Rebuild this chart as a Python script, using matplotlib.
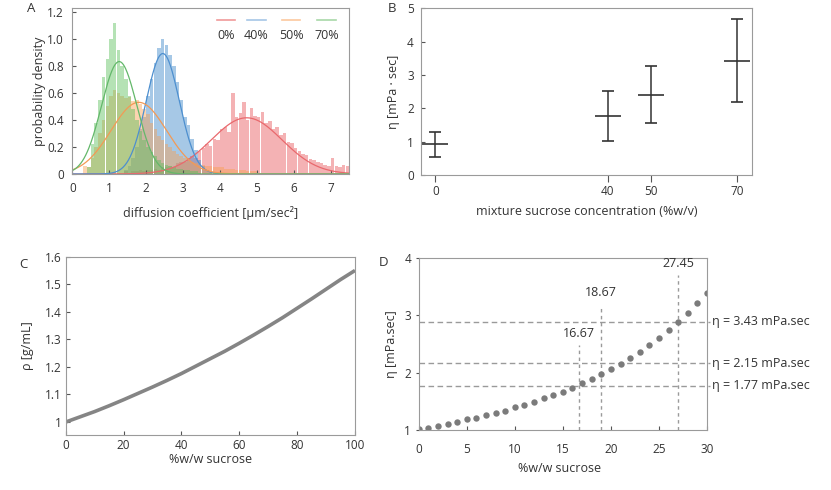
import numpy as np
import matplotlib
matplotlib.use("Agg")
import matplotlib.pyplot as plt

plt.rcParams['font.family'] = ['Open Sans', 'DejaVu Sans']
plt.rcParams['text.color'] = '#333333'
plt.rcParams['axes.labelcolor'] = '#333333'
plt.rcParams['xtick.color'] = '#555555'
plt.rcParams['ytick.color'] = '#555555'
plt.rcParams['xtick.labelcolor'] = '#333333'
plt.rcParams['ytick.labelcolor'] = '#333333'

# ---------------- Panel A data: histograms (bin width 0.1) ----------------
bin_width = 0.1
labels_A = ['0%', '40%', '50%', '70%']
hist_start = [1.0, 1.4, 0.3, 0.4]
h_0 = [0.01, 0.00, 0.01, 0.01, 0.02, 0.01, 0.02, 0.02, 0.03, 0.02,
       0.03, 0.03, 0.04, 0.03, 0.05, 0.05, 0.06, 0.05, 0.08, 0.09,
       0.09, 0.12, 0.13, 0.12, 0.17, 0.19, 0.22, 0.21, 0.26, 0.25,
       0.33, 0.35, 0.31, 0.60, 0.42, 0.45, 0.53, 0.40, 0.49, 0.43,
       0.42, 0.46, 0.38, 0.39, 0.33, 0.35, 0.29, 0.30, 0.24, 0.23,
       0.19, 0.17, 0.15, 0.14, 0.11, 0.10, 0.09, 0.08, 0.07, 0.06,
       0.12, 0.06, 0.05, 0.07, 0.06]
h_40 = [0.03, 0.06, 0.12, 0.20, 0.33, 0.42, 0.58, 0.70, 0.82, 0.93,
        1.00, 0.95, 0.88, 0.80, 0.68, 0.55, 0.42, 0.36, 0.26, 0.18,
        0.10, 0.06, 0.03, 0.02]
h_50 = [0.06, 0.05, 0.12, 0.20, 0.30, 0.40, 0.50, 0.58, 0.62, 0.60,
        0.58, 0.56, 0.57, 0.54, 0.55, 0.52, 0.48, 0.44, 0.38, 0.33,
        0.28, 0.25, 0.22, 0.20, 0.17, 0.15, 0.13, 0.12, 0.10, 0.09,
        0.08, 0.07, 0.07, 0.06, 0.06, 0.05, 0.05, 0.05, 0.04, 0.04,
        0.04, 0.03, 0.03, 0.03, 0.02, 0.02, 0.02]
h_70 = [0.05, 0.22, 0.38, 0.55, 0.72, 0.85, 1.00, 1.12, 0.92, 0.80,
        0.70, 0.58, 0.48, 0.40, 0.32, 0.25, 0.20, 0.16, 0.13, 0.10,
        0.08, 0.07, 0.06, 0.05, 0.04, 0.04, 0.03, 0.03, 0.02, 0.02, 0.01]
hist_heights = [h_0, h_40, h_50, h_70]
fit_mean = [4.72, 2.45, 1.80, 1.27]
fit_sd = [0.96, 0.448, 0.753, 0.48]
hist_colors = ['#e8555a', '#3a87c8', '#f9a050', '#5cbf5c']
curve_colors = ['#e9696d', '#4d8fcf', '#f39a55', '#63b86a']
legend_colors = ['#f09a9a', '#a6c6e6', '#fcc89e', '#a8d8a8']

# ---------------- Panel B data ----------------
conc_B = [0, 40, 50, 70]
visc_B = [0.92, 1.77, 2.41, 3.43]
visc_err_B = [0.38, 0.755, 0.855, 1.245]

# ---------------- Panel C data ----------------
sucrose_C = [0, 5, 10, 15, 20, 25, 30, 35, 40, 45, 50, 55, 60, 65, 70, 75, 80, 85, 90, 95, 100]
density_C = [1.000, 1.019, 1.038, 1.059, 1.081, 1.104, 1.127, 1.151, 1.176, 1.203,
             1.230, 1.257, 1.286, 1.316, 1.347, 1.379, 1.413, 1.447, 1.482, 1.517, 1.550]

# ---------------- Panel D data ----------------
sucrose_D = list(range(0, 31))
visc_D = [1.02, 1.04, 1.075, 1.105, 1.14, 1.19, 1.215, 1.255, 1.30, 1.34,
          1.40, 1.44, 1.49, 1.55, 1.61, 1.67, 1.74, 1.815, 1.89, 1.97,
          2.06, 2.15, 2.25, 2.36, 2.48, 2.60, 2.74, 2.89, 3.04, 3.21, 3.39]
hline_y = [2.89, 2.16, 1.77]
hline_labels = ['η = 3.43 mPa.sec', 'η = 2.15 mPa.sec', 'η = 1.77 mPa.sec']
vline_x = [16.67, 19.0, 27.0]
vline_top = [2.48, 3.18, 3.70]
vline_labels = ['16.67', '18.67', '27.45']

fig = plt.figure(figsize=(8.31, 4.90), dpi=100)

def fpos(l, r, t, b):
    W, H = 831.0, 490.0
    return [l / W, 1 - b / H, (r - l) / W, (b - t) / H]

def style_spines(ax):
    for s in ax.spines.values():
        s.set_color('#9a9a9a')
        s.set_linewidth(0.8)

FS_T = 8.5
FS_L = 9

# ---------------- Panel A ----------------
axA = fig.add_axes(fpos(72.3, 349.3, 8.3, 174))
for start, h, c in zip(hist_start, hist_heights, hist_colors):
    edges = start + bin_width * np.arange(len(h))
    axA.bar(edges, h, width=bin_width * 0.95, align='edge', color=c, alpha=0.45, linewidth=0)
xs = np.linspace(0, 7.5, 500)
for m, s, c in zip(fit_mean, fit_sd, curve_colors):
    axA.plot(xs, np.exp(-(xs - m) ** 2 / (2 * s * s)) / (s * np.sqrt(2 * np.pi)), color=c, lw=0.9)
axA.set_xlim(0, 7.5)
axA.set_ylim(0, 1.225)
axA.set_xticks(range(0, 8))
axA.set_yticks([0, 0.2, 0.4, 0.6, 0.8, 1.0, 1.2])
axA.set_yticklabels(['0', '0.2', '0.4', '0.6', '0.8', '1.0', '1.2'])
axA.tick_params(direction='in', length=3, labelsize=FS_T, pad=6)
axA.set_ylabel('probability density', fontsize=FS_L)
axA.set_xlabel('diffusion coefficient [μm/sec²]', fontsize=FS_L)
axA.yaxis.set_label_coords(-0.095, 0.5)
axA.xaxis.set_label_coords(0.5, -0.193)
style_spines(axA)
leg_x = [0.555, 0.665, 0.79, 0.918]
for lx, lab, c in zip(leg_x, labels_A, legend_colors):
    axA.plot([lx - 0.033, lx + 0.033], [0.929, 0.929], transform=axA.transAxes, color=c, lw=1.2)
    axA.text(lx, 0.835, lab, transform=axA.transAxes, ha='center', va='center', fontsize=9)

# ---------------- Panel B ----------------
axB = fig.add_axes(fpos(420.7, 752.3, 8.3, 175))
axB.errorbar(conc_B, visc_B, yerr=visc_err_B, fmt='_', color='#333333', ecolor='#333333',
             markersize=19, mew=1.2, elinewidth=1.1, capsize=4.1, capthick=1.1)
axB.set_xlim(-3.4, 73.5)
axB.set_ylim(0, 5)
axB.set_xticks(conc_B)
axB.set_yticks(range(0, 6))
axB.tick_params(axis='x', direction='out', length=5, labelsize=FS_T, pad=2)
axB.tick_params(axis='y', direction='in', length=3, labelsize=FS_T, pad=5)
axB.set_ylabel('η [mPa · sec]', fontsize=FS_L)
axB.set_xlabel('mixture sucrose concentration (%w/v)', fontsize=FS_L)
axB.yaxis.set_label_coords(-0.063, 0.5)
axB.xaxis.set_label_coords(0.5, -0.18)
style_spines(axB)

# ---------------- Panel C ----------------
axC = fig.add_axes(fpos(65.7, 355, 256.7, 435))
axC.plot(sucrose_C, density_C, color='#858585', lw=2.6, solid_capstyle='butt')
axC.set_xlim(0, 100)
axC.set_ylim(0.953, 1.6)
axC.set_xticks(range(0, 101, 20))
axC.set_yticks([1, 1.1, 1.2, 1.3, 1.4, 1.5, 1.6])
axC.set_yticklabels(['1', '1.1', '1.2', '1.3', '1.4', '1.5', '1.6'])
axC.tick_params(direction='in', length=3, labelsize=FS_T, pad=3)
axC.set_ylabel('ρ [g/mL]', fontsize=FS_L)
axC.set_xlabel('%w/w sucrose', fontsize=FS_L)
axC.yaxis.set_label_coords(-0.109, 0.5)
axC.xaxis.set_label_coords(0.5, -0.101)
style_spines(axC)

# ---------------- Panel D ----------------
axD = fig.add_axes(fpos(418.7, 707, 258, 430))
for y, lab in zip(hline_y, hline_labels):
    axD.axhline(y, xmin=0, xmax=1.012, color='#9a9a9a', lw=1.0, ls=(0, (4, 2.5)), clip_on=False)
    axD.text(1.017, (y - 1) / 3.0, lab, transform=axD.transAxes, ha='left', va='center', fontsize=9)
for x, top, lab in zip(vline_x, vline_top, vline_labels):
    axD.plot([x, x], [1, top], color='#9a9a9a', lw=1.0, ls=(0, (2.5, 2.5)))
    axD.annotate(lab, (x, top), xytext=(0, 4), textcoords='offset points',
                 ha='center', va='bottom', fontsize=9)
axD.plot(sucrose_D, visc_D, 'o', color='#7b7b7b', markersize=4.6, mew=0)
axD.set_xlim(0, 30)
axD.set_ylim(1, 4)
axD.set_xticks(range(0, 31, 5))
axD.set_yticks([1, 2, 3, 4])
axD.tick_params(axis='x', direction='in', length=3, labelsize=FS_T, pad=9)
axD.tick_params(axis='y', direction='out', length=2.5, labelsize=FS_T, pad=3)
axD.set_ylabel('η [mPa.sec]', fontsize=FS_L)
axD.set_xlabel('%w/w sucrose', fontsize=FS_L)
axD.yaxis.set_label_coords(-0.072, 0.5)
axD.xaxis.set_label_coords(0.49, -0.184)
style_spines(axD)

# panel letters
for lx, ly, t in [(31, 9, 'A'), (392, 9, 'B'), (23, 264, 'C'), (384, 262, 'D')]:
    fig.text(lx / 831, 1 - ly / 490, t, ha='center', va='center', fontsize=9.5)

fig.savefig('out.png', dpi=100)
